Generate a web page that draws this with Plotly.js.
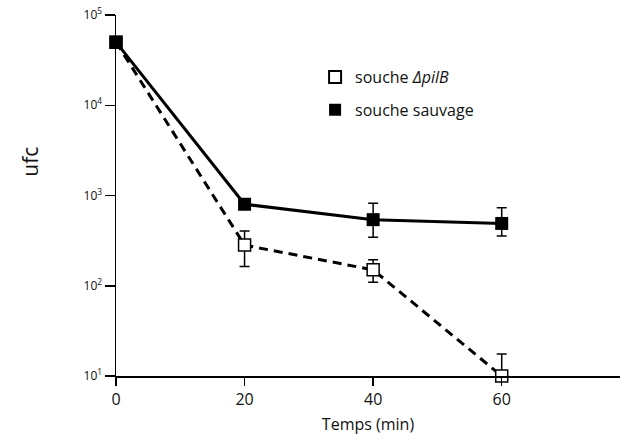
<!DOCTYPE html>
<html>
<head>
<meta charset="utf-8">
<script src="https://cdn.plot.ly/plotly-3.0.1.min.js"></script>
<style>html,body{margin:0;padding:0;background:#fff;}#chart{width:622px;height:440px;}</style>
</head>
<body>
<div id="chart"></div>
<script>
const times = [0, 20, 40, 60];
const mutantValues = [50000, 282, 150, 10];
const mutantErrPlus = [0, 121, 44, 7.5];
const mutantErrMinus = [0, 119, 41, 1.7];
const wildValues = [50000, 800, 540, 490];
const wildErrPlus = [0, 0, 280, 240];
const wildErrMinus = [0, 0, 195, 135];
const yTickVals = [10, 100, 1000, 10000, 100000];
const yTickText = ['10<sup>1</sup>', '10<sup>2</sup>', '10<sup>3</sup>', '10<sup>4</sup>', '10<sup>5</sup>'];
const xTickVals = [0, 20, 40, 60];
const legendMutant = 'souche <i>ΔpilB</i>';
const legendWild = 'souche sauvage';
const yLabel = 'ufc';

const font = 'Open Sans, Noto Sans, sans-serif';

const traces = [
  {
    x: times, y: mutantValues, mode: 'lines+markers', showlegend: false,
    line: {color: '#000', width: 3, dash: '9px,6px'},
    marker: {symbol: 'square', size: 12, color: '#fff', line: {color: '#000', width: 1.5}},
    error_y: {type: 'data', symmetric: false, array: mutantErrPlus, arrayminus: mutantErrMinus, color: '#000', thickness: 1.5, width: 5},
    cliponaxis: false
  },
  {
    x: times, y: wildValues, mode: 'lines+markers', showlegend: false,
    line: {color: '#000', width: 3},
    marker: {symbol: 'square', size: 13, color: '#000'},
    error_y: {type: 'data', symmetric: false, array: wildErrPlus, arrayminus: wildErrMinus, color: '#000', thickness: 1.5, width: 5},
    cliponaxis: false
  },
  {
    x: [null], y: [null], mode: 'markers', name: legendMutant, legendgroup: 'a',
    marker: {symbol: 'square', size: 11, color: '#fff', line: {color: '#000', width: 1.5}}
  },
  {
    x: [null], y: [null], mode: 'markers', name: legendWild, legendgroup: 'b',
    marker: {symbol: 'square', size: 11, color: '#000'}
  }
];

const layout = {
  width: 622, height: 440,
  margin: {l: 116, r: 2, t: 15, b: 64},
  paper_bgcolor: '#fff', plot_bgcolor: '#fff',
  font: {family: font, color: '#111', size: 13},
  showlegend: true,
  legend: {x: 0.395, y: 0.875, xanchor: 'left', yanchor: 'top', traceorder: 'grouped', tracegroupgap: 9,
           font: {family: font, size: 16, color: '#111'}, bgcolor: 'rgba(0,0,0,0)', itemsizing: 'constant'},
  xaxis: {
    range: [0, 78.4], showgrid: false, zeroline: false, showline: true, linecolor: '#000', linewidth: 1.5,
    ticks: 'outside', ticklen: 8, tickwidth: 1.5, tickcolor: '#000',
    tickvals: xTickVals, tickfont: {family: font, size: 16, color: '#111'},
    title: {text: 'Temps (min)', font: {family: font, size: 16, color: '#111'}, standoff: 10}
  },
  yaxis: {
    type: 'log', range: [1, 5], showgrid: false, zeroline: false, showline: true, linecolor: '#000', linewidth: 1.5,
    ticks: 'outside', ticklen: 10, tickwidth: 1.5, tickcolor: '#000',
    tickvals: yTickVals, ticktext: yTickText, tickfont: {family: font, size: 12, color: '#111'}
  },
  annotations: [
    {text: yLabel, xref: 'paper', yref: 'paper', x: -0.171, y: 0.593, xanchor: 'center', yanchor: 'middle',
     textangle: -90, showarrow: false, font: {family: font, size: 21, color: '#111'}}
  ]
};

Plotly.newPlot('chart', traces, layout, {displayModeBar: false, staticPlot: true});
</script>
</body>
</html>
